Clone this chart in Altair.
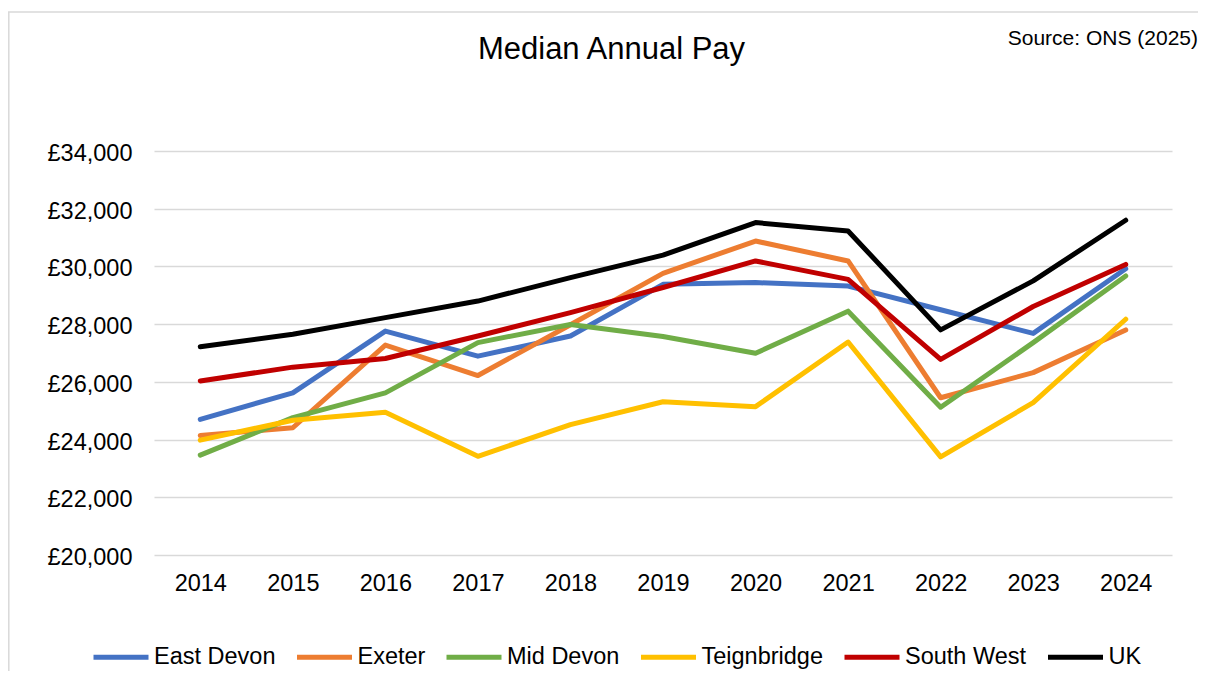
import altair as alt
import pandas as pd

years = [2014, 2015, 2016, 2017, 2018, 2019, 2020, 2021, 2022, 2023, 2024]
east_devon = [24700, 25620, 27760, 26890, 27590, 29380, 29440, 29320, 28500, 27680, 29920]
exeter = [24140, 24410, 27275, 26220, 27980, 29760, 30880, 30190, 25450, 26320, 27800]
mid_devon = [23460, 24760, 25620, 27360, 27990, 27570, 26990, 28450, 25120, 27360, 29670]
teignbridge = [23980, 24670, 24950, 23420, 24520, 25310, 25140, 27380, 23400, 25280, 28170]
south_west = [26030, 26510, 26810, 27590, 28400, 29270, 30190, 29550, 26780, 28610, 30070]
uk = [27220, 27650, 28225, 28800, 29610, 30390, 31520, 31230, 27800, 29500, 31600]

series_names = ["East Devon", "Exeter", "Mid Devon", "Teignbridge", "South West", "UK"]
series_values = [east_devon, exeter, mid_devon, teignbridge, south_west, uk]
series_colors = ["#4472C4", "#ED7D31", "#70AD47", "#FFC000", "#C00000", "#000000"]
y_ticks = [20000, 22000, 24000, 26000, 28000, 30000, 32000, 34000]

title_text = "Median Annual Pay"
source_text = "Source: ONS (2025)"

rows = []
for name, vals in zip(series_names, series_values):
    for yr, v in zip(years, vals):
        rows.append({"Year": str(yr), "Area": name, "Pay": v, "ord": series_names.index(name)})
df = pd.DataFrame(rows)

FONT = "Liberation Sans"

lines = alt.Chart(df).mark_line(strokeWidth=5, strokeCap="round", strokeJoin="round").encode(
    x=alt.X("Year:O", scale=alt.Scale(type="point", padding=0.5),
            axis=alt.Axis(title=None, labelAngle=0, ticks=False, domain=False, grid=False,
                          labelPadding=16, labelFontSize=23.5, labelColor="#000000",
                          labelFont=FONT)),
    y=alt.Y("Pay:Q", scale=alt.Scale(domain=[20000, 34000], nice=False, zero=False),
            axis=alt.Axis(title=None, values=y_ticks, ticks=False, domain=False,
                          labelExpr="'£' + format(datum.value, ',')",
                          labelPadding=22, labelFontSize=23.5, labelColor="#000000",
                          labelFont=FONT, labelOffset=2.5,
                          grid=True, gridColor="#d9d9d9", gridWidth=1.6)),
    color=alt.Color("Area:N", sort=series_names,
                    scale=alt.Scale(domain=series_names, range=series_colors),
                    legend=alt.Legend(title=None, orient="none", direction="horizontal",
                                      legendX=-63, legendY=476,
                                      symbolType="stroke", symbolSize=3025,
                                      symbolStrokeWidth=5, labelOffset=3,
                                      columnPadding=10.5, labelFontSize=23.5,
                                      labelFont=FONT, labelColor="#000000",
                                      padding=0)),
    order=alt.Order("ord:Q"),
)

tdf = pd.DataFrame({"t": [title_text]})
title = alt.Chart(tdf).mark_text(fontSize=31, font=FONT, color="#000000",
                                 align="center", baseline="alphabetic").encode(
    text="t:N", x=alt.value(457.5), y=alt.value(-91.7))

sdf = pd.DataFrame({"t": [source_text]})
source = alt.Chart(sdf).mark_text(fontSize=21, font=FONT, color="#000000",
                                  align="right", baseline="alphabetic").encode(
    text="t:N", x=alt.value(1044), y=alt.value(-106))

bdf = pd.DataFrame({"b": [1]})
top_border = alt.Chart(bdf).mark_rule(color="#d9d9d9", strokeWidth=1.5).encode(
    x=alt.value(-146), x2=alt.value(1044), y=alt.value(-139))
left_border = alt.Chart(bdf).mark_rule(color="#d9d9d9", strokeWidth=1.5).encode(
    x=alt.value(-145.2), y=alt.value(-139), y2=alt.value(520))

chart = alt.layer(top_border, left_border, lines, title, source).properties(
    width=1018, height=404,
    autosize=alt.AutoSizeParams(type="none"),
    padding={"left": 146, "top": 143, "right": 26, "bottom": 118},
).configure(font=FONT).configure_view(strokeWidth=0, stroke="transparent")

chart.save("out.html", embed_options={"renderer": "svg", "actions": False})
